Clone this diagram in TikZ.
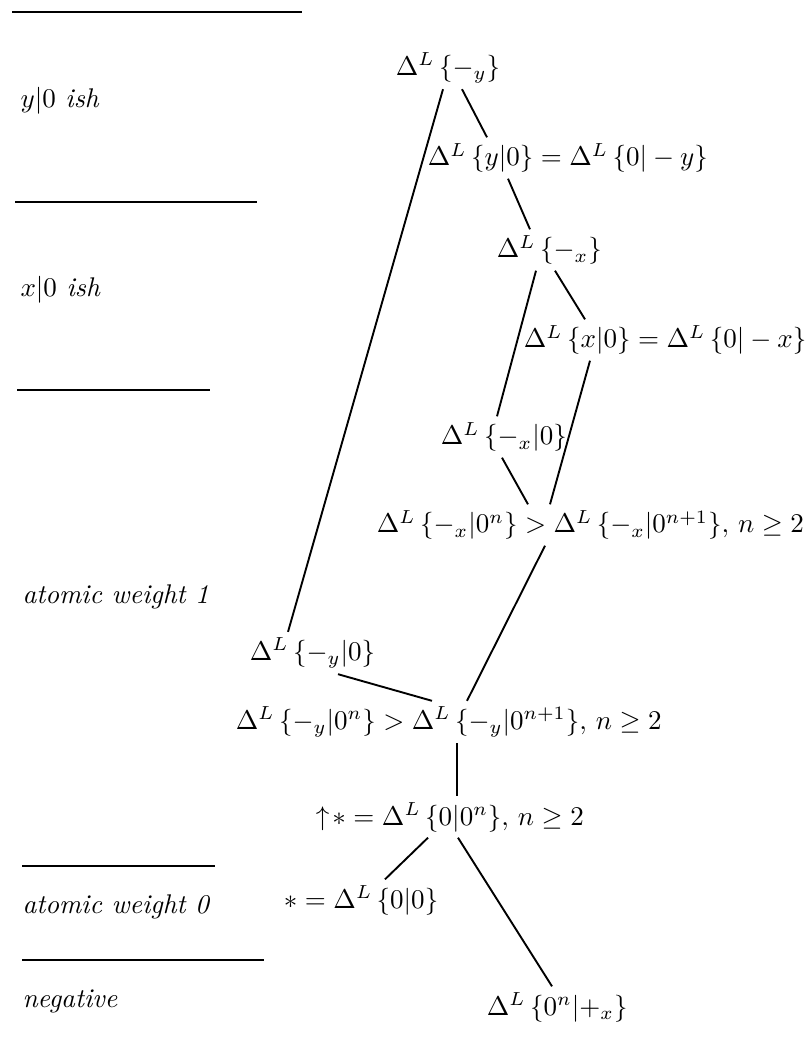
\documentclass[tikz,border=0pt]{standalone}
\usepackage{amssymb}
\usetikzlibrary{calc}
\begin{document}
\begin{tikzpicture}[
		x=0.37pt, y=-0.37pt,
		g/.style = {anchor=west, inner sep=2pt},
		lab/.style = {anchor=west, inner sep=0pt, font=\itshape},
		e/.style = {line width=0.7pt},
		sep/.style = {line width=0.6pt},
		]
		\useasboundingbox (0,0) rectangle (812,1054);
		
		%Nodes
		\node[g]	(my)	at	(390, 68)	{$\Delta^L\,\{-_y\}$};
		\node[g]	(yeq)	at	(422, 158)	{$\Delta^L\,\{y|0\}=\Delta^L\,\{0|-y\}$};
		\node[g]	(mx)	at	(491, 250)	{$\Delta^L\,\{-_x\}$};
		\node[g]	(xeq)	at	(518, 340)	{$\Delta^L\,\{x|0\}=\Delta^L\,\{0|-x\}$};
		\node[g]	(mx0)	at	(435, 437)	{$\Delta^L\,\{-_x|0\}$};
		\node[g]	(mxn)	at	(371, 525)	{$\Delta^L\,\{-_x|0^n\}>\Delta^L\,\{-_x|0^{n+1}\},\, n\geq 2$};
		\node[g]	(my0)	at	(244, 653)	{$\Delta^L\,\{-_y|0\}$};
		\node[g]	(myn)	at	(230, 722)	{$\Delta^L\,\{-_y|0^n\}>\Delta^L\,\{-_y|0^{n+1}\},\, n\geq 2$};
		\node[g]	(us)	at	(310, 817)	{$\uparrow\!*=\Delta^L\,\{0|0^n\},\, n\geq 2$};
		\node[g]	(st)	at	(278, 900)	{$*=\Delta^L\,\{0|0\}$};
		\node[g]	(neg)	at	(481, 1007)	{$\Delta^L\,\{0^n|+_x\}$};
		
		%Labels
		\node[lab]	(ly)	at	(20, 101)	{$y|0$ ish};
		\node[lab]	(lx)	at	(20, 290)	{$x|0$ ish};
		\node[lab]	(l1)	at	(22, 597)	{atomic weight 1};
		\node[lab]	(l0)	at	(22, 907)	{atomic weight 0};
		\node[lab]	(ln)	at	(22, 1001)	{negative};
		
		%Separators
		\draw[sep]	(12, 12)	--	(302, 12);
		\draw[sep]	(15, 202)	--	(257, 202);
		\draw[sep]	(17, 390)	--	(210, 390);
		\draw[sep]	(22, 866)	--	(215, 866);
		\draw[sep]	(22, 960)	--	(264, 960);
		
		%Lines
		\draw[e]	($(my.south west)+(53,0)$)	--	($(my0.north west)+(44,0)$);
		\draw[e]	($(my.south west)+(72,0)$)	--	($(yeq.north west)+(65,0)$);
		\draw[e]	($(yeq.south west)+(86,0)$)	--	($(mx.north west)+(39,0)$);
		\draw[e]	($(mx.south west)+(45,0)$)	--	($(mx0.north west)+(62,0)$);
		\draw[e]	($(mx.south west)+(64,0)$)	--	($(xeq.north west)+(67,0)$);
		\draw[e]	($(xeq.south west)+(72,0)$)	--	($(mxn.north west)+(179,0)$);
		\draw[e]	($(mx0.south west)+(67,0)$)	--	($(mxn.north west)+(157,0)$);
		\draw[e]	($(mxn.south west)+(174,0)$)	--	($(myn.north west)+(237,0)$);
		\draw[e]	($(my0.south west)+(94,0)$)	--	($(myn.north west)+(202,0)$);
		\draw[e]	($(myn.south west)+(227,0)$)	--	($(us.north west)+(147,0)$);
		\draw[e]	($(us.south west)+(118,0)$)	--	($(st.north west)+(107,0)$);
		\draw[e]	($(us.south west)+(148,0)$)	--	($(neg.north west)+(71,0)$);
		
	\end{tikzpicture}
\end{document}
